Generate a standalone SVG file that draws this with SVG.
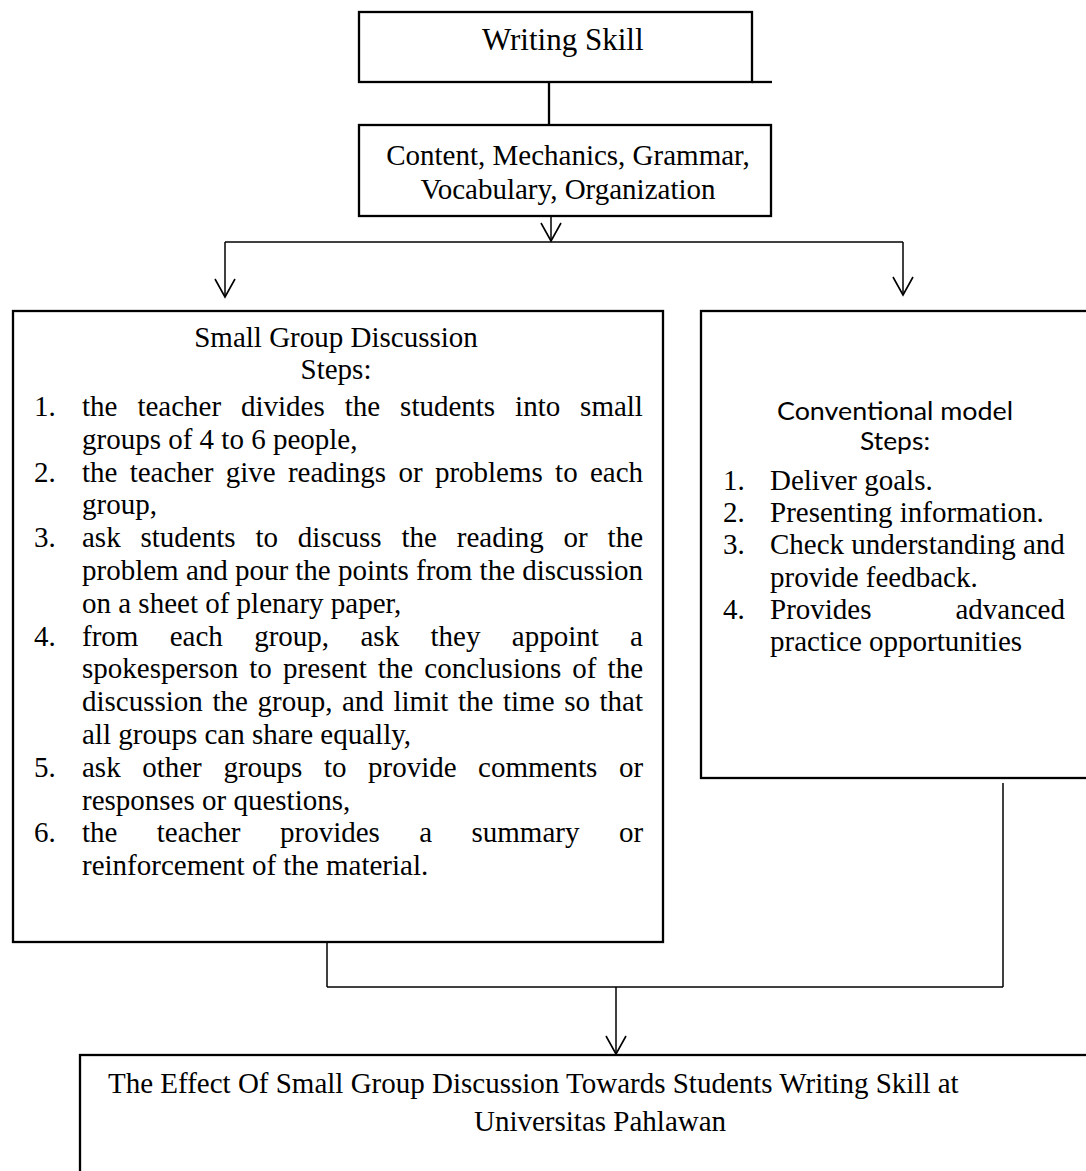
<svg xmlns="http://www.w3.org/2000/svg" width="1086" height="1171" viewBox="0 0 1086 1171">
  <style>
    .box { fill: #ffffff; stroke: #000000; stroke-width: 2.3; }
    .ln { fill: none; stroke: #000000; stroke-width: 1.5; }
    .t { font-family: "Liberation Serif", "Times New Roman", serif; font-size: 29px; fill: #000000; }
    .s { font-family: "Lato", "Open Sans", "Liberation Sans", sans-serif; font-size: 25px; fill: #000000; }
    .mid { text-anchor: middle; }
  </style>
  <defs>
    <marker id="arr" viewBox="-20 -12 22 24" refX="0" refY="0" markerWidth="22" markerHeight="24" markerUnits="userSpaceOnUse" orient="auto">
      <path d="M-18,-10 L0,0 L-18,10" fill="none" stroke="#000000" stroke-width="1.6"/>
    </marker>
  </defs>
  <rect width="1086" height="1171" fill="#ffffff"/>

  <g id="connectors">
    <line class="ln" x1="549" y1="82" x2="549" y2="125" style="stroke-width:2.3"/>
    <line class="ln" x1="551" y1="216" x2="551" y2="241" marker-end="url(#arr)"/>
    <line class="ln" x1="225" y1="242" x2="903" y2="242"/>
    <line class="ln" x1="225" y1="242" x2="225" y2="297" marker-end="url(#arr)"/>
    <line class="ln" x1="903" y1="242" x2="903" y2="295" marker-end="url(#arr)"/>
    <line class="ln" x1="327" y1="942" x2="327" y2="987"/>
    <line class="ln" x1="1003" y1="783" x2="1003" y2="987"/>
    <line class="ln" x1="327" y1="987" x2="1003" y2="987"/>
    <line class="ln" x1="616" y1="987" x2="616" y2="1054" marker-end="url(#arr)"/>
  </g>

  <g id="writing-skill">
    <rect class="box" x="359" y="12" width="393" height="70"/>
    <line x1="752" y1="82" x2="772" y2="82" stroke="#000000" stroke-width="2.3"/>
    <text class="t" x="482" y="50" style="font-size:31px">Writing Skill</text>
  </g>

  <g id="aspects">
    <rect class="box" x="359" y="125" width="412" height="91"/>
    <text class="t mid" x="568" y="165">Content, Mechanics, Grammar,</text>
    <text class="t mid" x="568" y="199">Vocabulary, Organization</text>
  </g>

  <g id="small-group-discussion">
    <rect class="box" x="13" y="311" width="650" height="631"/>
    <text class="t mid" x="336" y="347">Small Group Discussion</text>
    <text class="t mid" x="336" y="379">Steps:</text>
    <text class="t" x="34" y="416">1.</text>
    <text class="t" y="416"><tspan x="82">the</tspan><tspan x="137.4">teacher</tspan><tspan x="241">divides</tspan><tspan x="344.7">the</tspan><tspan x="400.1">students</tspan><tspan x="515.1">into</tspan><tspan x="580.1">small</tspan></text>
    <text class="t" x="82" y="448.8">groups of 4 to 6 people,</text>
    <text class="t" x="34" y="481.6">2.</text>
    <text class="t" y="481.6"><tspan x="82">the</tspan><tspan x="129.7">teacher</tspan><tspan x="225.7">give</tspan><tspan x="287.9">readings</tspan><tspan x="398.4">or</tspan><tspan x="434.9">problems</tspan><tspan x="555.1">to</tspan><tspan x="589.9">each</tspan></text>
    <text class="t" x="82" y="514.4">group,</text>
    <text class="t" x="34" y="547.2">3.</text>
    <text class="t" y="547.2"><tspan x="82">ask</tspan><tspan x="140.5">students</tspan><tspan x="255.4">to</tspan><tspan x="297.8">discuss</tspan><tspan x="401.5">the</tspan><tspan x="456.8">reading</tspan><tspan x="563.6">or</tspan><tspan x="607.6">the</tspan></text>
    <text class="t" y="580"><tspan x="82">problem</tspan><tspan x="185.9">and</tspan><tspan x="234.9">pour</tspan><tspan x="295.3">the</tspan><tspan x="337.9">points</tspan><tspan x="416">from</tspan><tspan x="479.6">the</tspan><tspan x="522.2">discussion</tspan></text>
    <text class="t" x="82" y="612.8">on a sheet of plenary paper,</text>
    <text class="t" x="34" y="645.6">4.</text>
    <text class="t" y="645.6"><tspan x="82">from</tspan><tspan x="169.7">each</tspan><tspan x="254.2">group,</tspan><tspan x="360.5">ask</tspan><tspan x="430.5">they</tspan><tspan x="511.8">appoint</tspan><tspan x="630.1">a</tspan></text>
    <text class="t" y="678.4"><tspan x="82">spokesperson</tspan><tspan x="249.3">to</tspan><tspan x="283">present</tspan><tspan x="377.8">the</tspan><tspan x="424.3">conclusions</tspan><tspan x="572.3">of</tspan><tspan x="607.6">the</tspan></text>
    <text class="t" y="711.2"><tspan x="82">discussion</tspan><tspan x="212.5">the</tspan><tspan x="257.5">group,</tspan><tspan x="342">and</tspan><tspan x="393.5">limit</tspan><tspan x="457.9">the</tspan><tspan x="503">time</tspan><tspan x="564.2">so</tspan><tspan x="599.5">that</tspan></text>
    <text class="t" x="82" y="744">all groups can share equally,</text>
    <text class="t" x="34" y="776.8">5.</text>
    <text class="t" y="776.8"><tspan x="82">ask</tspan><tspan x="142.2">other</tspan><tspan x="223.4">groups</tspan><tspan x="323.9">to</tspan><tspan x="368">provide</tspan><tspan x="478.1">comments</tspan><tspan x="618.9">or</tspan></text>
    <text class="t" x="82" y="809.6">responses or questions,</text>
    <text class="t" x="34" y="842.4">6.</text>
    <text class="t" y="842.4"><tspan x="82">the</tspan><tspan x="156.8">teacher</tspan><tspan x="280">provides</tspan><tspan x="419.2">a</tspan><tspan x="471.5">summary</tspan><tspan x="618.9">or</tspan></text>
    <text class="t" x="82" y="875.2">reinforcement of the material.</text>
  </g>

  <g id="conventional-model">
    <rect class="box" x="701" y="311" width="400" height="467"/>
    <text class="s" x="777" y="420" textLength="236" lengthAdjust="spacingAndGlyphs">Conventional model</text>
    <text class="s" x="860" y="450" textLength="70" lengthAdjust="spacingAndGlyphs">Steps:</text>
    <text class="t" x="723" y="490">1.</text>
    <text class="t" x="770" y="490">Deliver goals.</text>
    <text class="t" x="723" y="522.2">2.</text>
    <text class="t" x="770" y="522.2">Presenting information.</text>
    <text class="t" x="723" y="554.4">3.</text>
    <text class="t" x="770" y="554.4">Check understanding and</text>
    <text class="t" x="770" y="586.6">provide feedback.</text>
    <text class="t" x="723" y="618.8">4.</text>
    <text class="t" y="618.8"><tspan x="770">Provides</tspan><tspan x="955.5">advanced</tspan></text>
    <text class="t" x="770" y="651">practice opportunities</text>
  </g>

  <g id="effect">
    <rect class="box" x="80" y="1055" width="1020" height="130"/>
    <text class="t" x="108" y="1093">The Effect Of Small Group Discussion Towards Students Writing Skill at</text>
    <text class="t" x="474" y="1131">Universitas Pahlawan</text>
  </g>
</svg>
